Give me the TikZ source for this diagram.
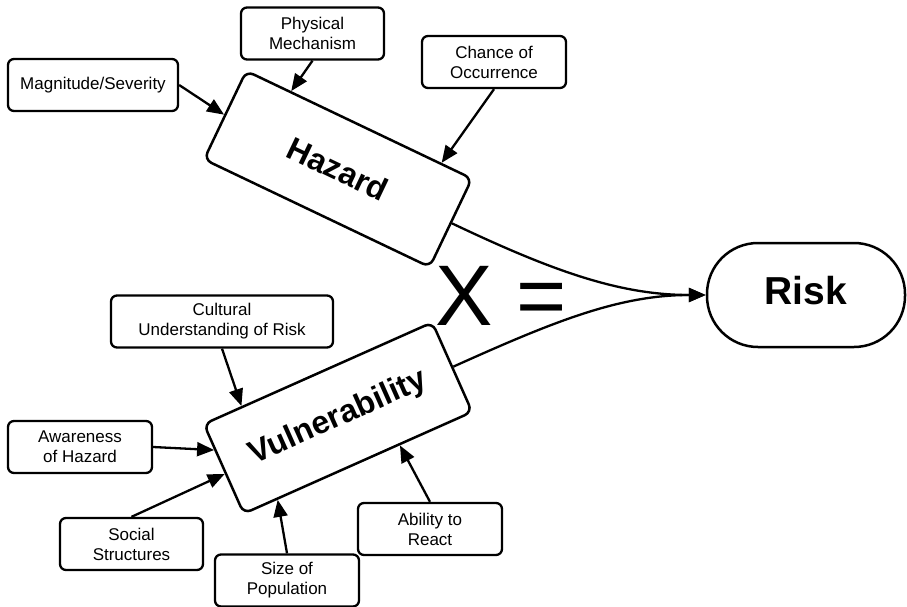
\documentclass[tikz,border=0pt]{standalone}
\usepackage{fontspec}
\setmainfont{Liberation Sans}
\usetikzlibrary{arrows.meta,calc}
\begin{document}
\begin{tikzpicture}[x=1pt,y=-1pt,
  smallbox/.style={draw, line width=2.3pt, rounded corners=6pt, minimum height=52pt, inner sep=0pt, align=center, font=\fontsize{17}{20}\selectfont},
  bigbox/.style={draw, line width=2.5pt, rounded corners=8pt, minimum width=250pt, minimum height=98pt, inner sep=0pt, font=\bfseries\fontsize{32}{38}\selectfont},
  link/.style={line width=2.3pt, -{Triangle[length=17pt,width=14pt]}},
]
\useasboundingbox (0,0) rectangle (907,607);

% big boxes
\node[bigbox, rotate=-25.5] (haz) at (338,169) {Hazard};
\node[bigbox, rotate=24] (vul) at (338,418) {Vulnerability};
\node[draw, line width=2.5pt, rounded corners=51pt, minimum width=198pt, minimum height=104pt, inner sep=0pt, text depth=10pt, font=\bfseries\fontsize{39}{44}\selectfont] (risk) at (806,295) {Risk};
\node[inner sep=0pt, font=\fontsize{86}{90}\selectfont] (op) at (501,296) {X =};

% hazard factors
\node[smallbox, minimum width=170pt] (mag) at (93,85) {Magnitude/Severity};
\node[smallbox, minimum width=143pt] (phys) at (312.5,33.5) {Physical\\Mechanism};
\node[smallbox, minimum width=144pt] (chance) at (494,62) {Chance of\\Occurrence};

% vulnerability factors
\node[smallbox, minimum width=222pt] (cult) at (222,321.5) {Cultural\\Understanding of Risk};
\node[smallbox, minimum width=144pt] (aware) at (80,447) {Awareness\\of Hazard};
\node[smallbox, minimum width=143pt] (social) at (131.5,544) {Social\\Structures};
\node[smallbox, minimum width=144pt] (size) at (287,580.5) {Size of\\Population};
\node[smallbox, minimum width=144pt] (able) at (430,529) {Ability to\\React};

% arrows into hazard
\draw[link] (mag.east) -- (haz.west);
\draw[link] (phys.south) -- ($(haz.north west)!0.2!(haz.north east)$);
\draw[link] (chance.south) -- ($(haz.north west)!0.86!(haz.north east)$);

% arrows into vulnerability
\draw[link] (cult.south) -- ($(vul.north west)!0.17!(vul.north east)$);
\draw[link] (aware.east) -- ($(vul.north west)!0.29!(vul.south west)$);
\draw[link] (social.north) -- ($(vul.north west)!0.55!(vul.south west)$);
\draw[link] (size.north) -- ($(vul.south west)!0.15!(vul.south east)$);
\draw[link] (able.north) -- ($(vul.south west)!0.68!(vul.south east)$);

% converging curves into risk
\draw[link] (haz.east) .. controls ($(haz.east)+(99,47)$) and ($(risk.west)+(-87,0)$) .. (risk.west);
\draw[link] (vul.east) .. controls ($(vul.east)+(100,-45)$) and ($(risk.west)+(-87,0)$) .. (risk.west);
\end{tikzpicture}
\end{document}
